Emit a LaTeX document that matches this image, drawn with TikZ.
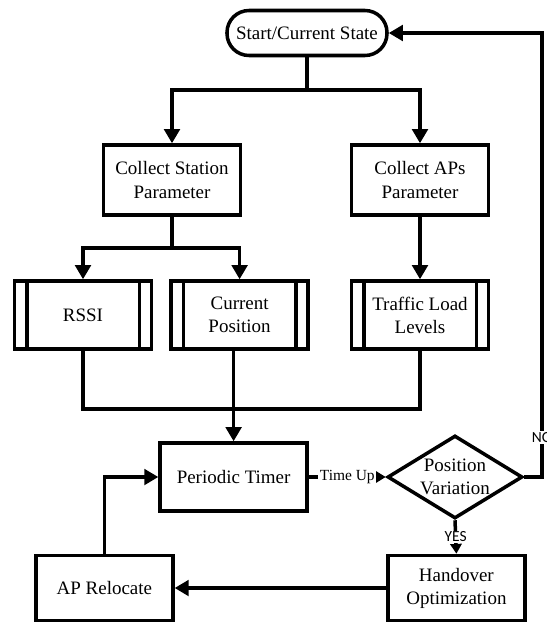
\documentclass[tikz,border=0pt]{standalone}
\usepackage{fontspec}
\setmainfont{Liberation Serif}
\newfontfamily\labelfont{Carlito}
\usetikzlibrary{arrows.meta,shapes.geometric,calc}

\tikzset{
    box/.style={draw, line width=2.5pt, minimum width=3.425cm, minimum height=1.75cm,
        align=center, font=\fontsize{13.5}{16.4}\selectfont},
    subbox/.style={box, minimum height=1.7cm},
    termbox/.style={box, rounded corners=0.55cm, minimum width=4cm, minimum height=1.125cm},
    decide/.style={draw, diamond, line width=2.5pt, inner sep=0pt, aspect=1.63,
        minimum width=3.375cm, minimum height=2.075cm, align=center,
        font=\fontsize{13.5}{16.4}\selectfont},
    flow/.style={line width=2.5pt, -{Triangle[length=10pt,width=11pt]}},
    smallflow/.style={line width=2.5pt, -{Triangle[length=7pt,width=8pt]}},
    line/.style={line width=2.5pt},
    yesno/.style={fill=white, inner sep=1pt, font=\labelfont\fontsize{11}{13}\selectfont},
}

\begin{document}
\begin{tikzpicture}
    \useasboundingbox (0,0) rectangle (13.675,-15.575);

    % Nodes
    \node[termbox] (start) at (7.675,-0.825) {Start/Current State};
    \node[box] (station) at (4.3,-4.5) {Collect Station\\Parameter};
    \node[box] (aps) at (10.5,-4.5) {Collect APs\\Parameter};
    \node[subbox] (rssi) at (2.075,-7.875) {RSSI};
    \node[subbox] (curpos) at (5.99,-7.875) {Current\\Position};
    \node[subbox] (traffic) at (10.5,-7.875) {Traffic Load\\Levels};
    \node[box, minimum width=3.675cm, minimum height=1.7cm] (timer) at (5.84,-11.925) {Periodic Timer};
    \node[decide] (posvar) at (11.375,-11.925) {Position\\Variation};
    \node[box, minimum height=1.625cm] (handover) at (11.41,-14.7) {Handover\\Optimization};
    \node[box, minimum height=1.625cm] (reloc) at (2.61,-14.7) {AP Relocate};

    % Side bars of the predefined process boxes
    \foreach \n in {rssi,curpos,traffic} {
        \draw[line] ([xshift=0.35cm]\n.north west) -- ([xshift=0.35cm]\n.south west);
        \draw[line] ([xshift=-0.35cm]\n.north east) -- ([xshift=-0.35cm]\n.south east);
    }

    % Branch points
    \coordinate (split) at (7.675,-2.25);
    \coordinate (ssplit) at (4.3,-6.2);
    \coordinate (merge) at (5.84,-10.225);
    \coordinate (noturn) at (13.55,-11.925);

    % Connectors
    \draw[flow] (start.south) -- (split) -| (station.north);
    \draw[flow] (split) -| (aps.north);
    \draw[flow] (station.south) -- (ssplit) -| (rssi.north);
    \draw[flow] (ssplit) -| (curpos.north);
    \draw[flow] (aps.south) -- (traffic.north);
    \draw[line] (rssi.south) |- (merge) -| (traffic.south);
    \draw[flow] (curpos.south -| merge) -- (timer.north);
    \draw[smallflow] (timer.east) -- node[fill=white, inner sep=1pt, font=\fontsize{11}{13}\selectfont] (tup) {Time Up} (posvar.west);
    \draw[smallflow] (posvar.south) -- node[yesno] (yes) {YES} (handover.north);
    \draw[flow] (posvar.east) -- (noturn) |- node[yesno, pos=0.044] (no) {NO} (start.east);
    \draw[flow] (handover.west) -- (reloc.east);
    \draw[flow] (reloc.north) |- (timer.west);
\end{tikzpicture}
\end{document}
